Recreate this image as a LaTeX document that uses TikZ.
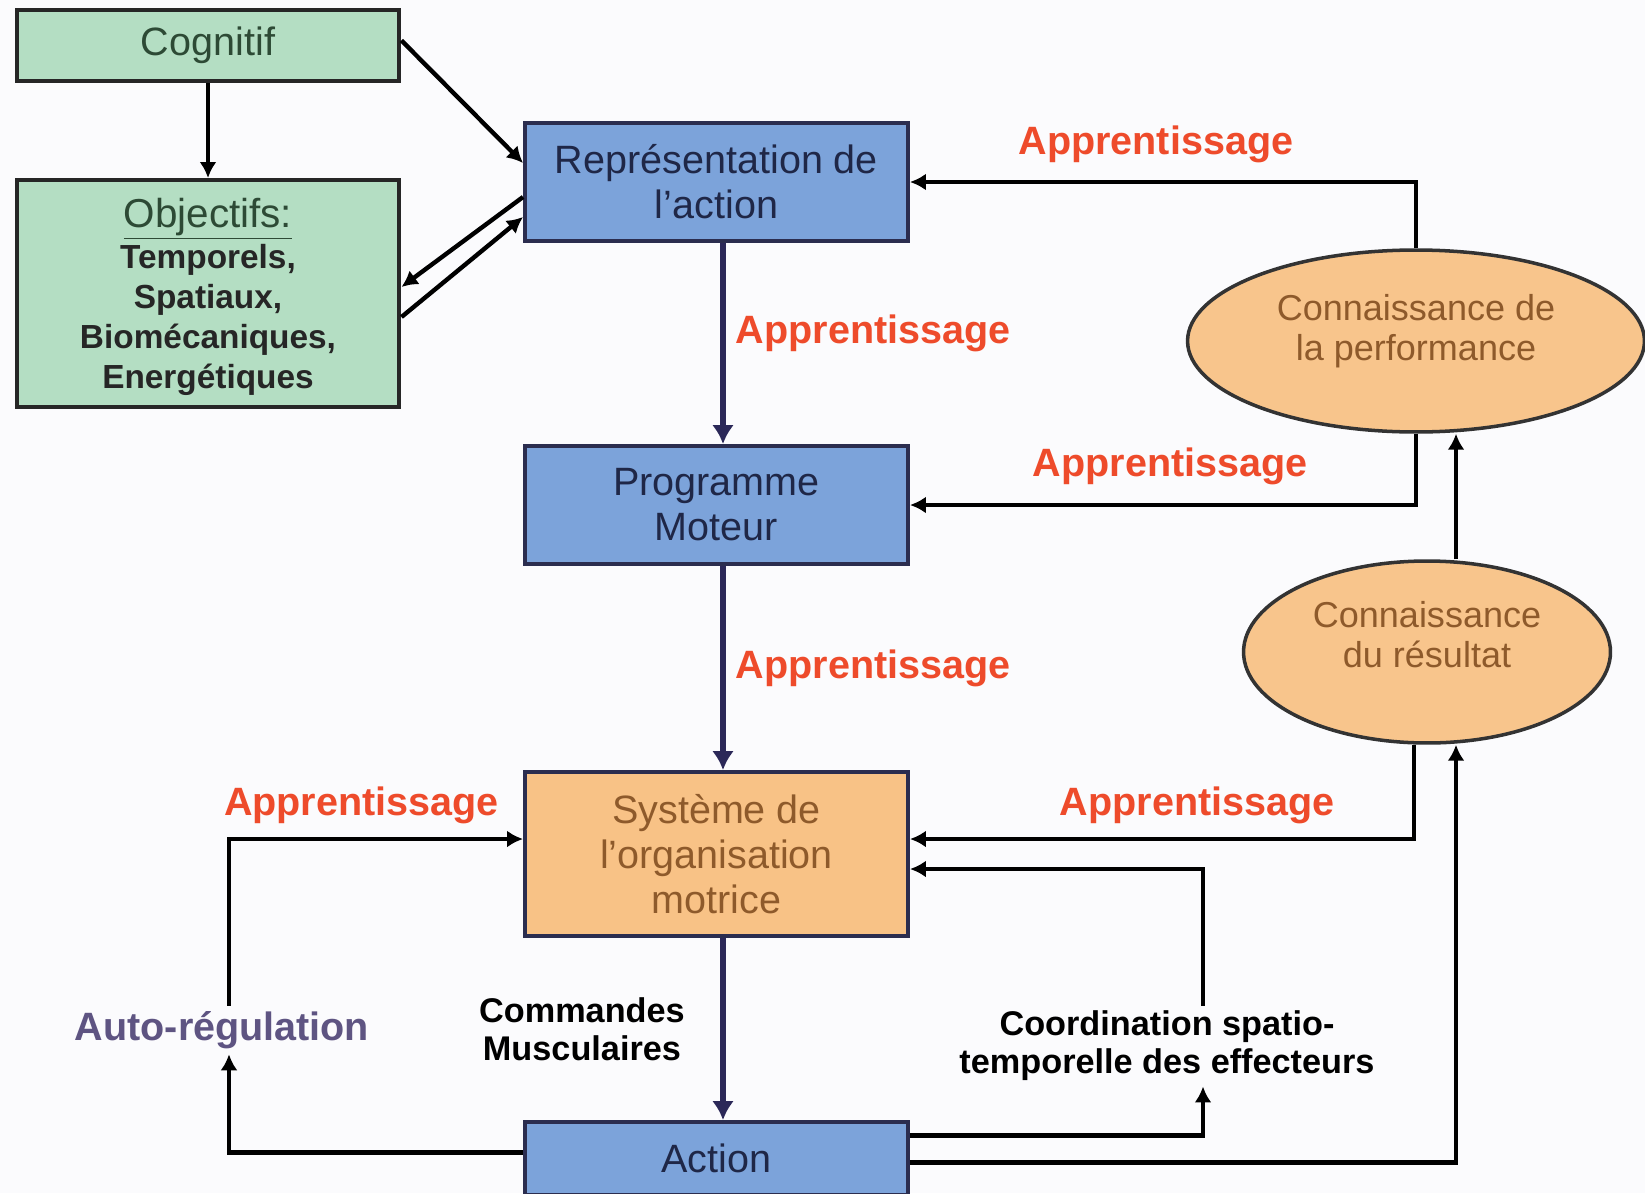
\documentclass[tikz,border=0pt]{standalone}
\usepackage{fontspec}
\setmainfont{Liberation Sans}
\usepackage{tikz}
\usetikzlibrary{arrows.meta, positioning, calc, shapes.geometric}
\definecolor{bgc}{HTML}{FBFBFD}
\definecolor{fGreen}{HTML}{B4DEC3}
\definecolor{tGreen}{HTML}{2D4A35}
\definecolor{fBlue}{HTML}{7CA3DA}
\definecolor{tBlue}{HTML}{1F2747}
\definecolor{fOrange}{HTML}{F8C286}
\definecolor{tOrange}{HTML}{8E5A2B}
\definecolor{bdr}{HTML}{2B2D4F}
\definecolor{navy}{HTML}{2B2858}
\definecolor{lrnRed}{HTML}{EE4B2B}
\definecolor{regPurple}{HTML}{5E5482}
\tikzset{
  B/.style={draw=bdr, line width=2.3pt, minimum width=7.66cm,
    font=\fontsize{22.5}{25.6}\selectfont, align=center, inner sep=2pt},
  Bb/.style={B, fill=fBlue, text=tBlue},
  Bg/.style={B, fill=fGreen, text=tGreen, draw=black!85},
  Bo/.style={B, fill=fOrange, text=tOrange},
  % feedback ellipses (text sits a little above the centre)
  E/.style={ellipse, draw=black!80, line width=2pt, fill=fOrange!95!white,
    text=tOrange, align=center, inner sep=0pt,
    font=\fontsize{20.5}{23}\selectfont},
  A/.style={-{Latex[length=0.32cm,width=0.34cm]}, line width=2.5pt},
  Am/.style={-{Latex[length=0.38cm,width=0.44cm]}, line width=3.4pt, draw=navy},
  lrn/.style={text=lrnRed, inner sep=0pt, font=\bfseries\fontsize{22.5}{26}\selectfont},
  sub/.style={font=\bfseries\fontsize{19.5}{21.5}\selectfont, align=center, inner sep=3pt},
}

\begin{document}
\begin{tikzpicture}[x=0.02cm, y=-0.02cm]
\fill[bgc] (0,0) rectangle (1645,1193);
\useasboundingbox (0,0) rectangle (1645,1193);

% =====================================================================
% LEFT: cognitive goals
% =====================================================================
\node[Bg, minimum height=1.42cm] (cog) at (208,45.5) {Cognitif};
\node[Bg, minimum height=4.54cm, text=black!85,
      font=\bfseries\fontsize{19}{22.7}\selectfont] (obj) at (208,293.5) {%
  {\rule{0pt}{0.73cm}\mdseries\fontsize{23}{22.7}\selectfont\color{tGreen}\underline{Objectifs:}}\\[0.02cm]
  Temporels,\\Spatiaux,\\Biomécaniques,\\Energétiques};

% ── MAIN COLUMN ──────────────────────────────────────────────────────
\node[Bb, minimum height=2.36cm] (rep) at (716.5,182) {Représentation de\\l’action};
\node[Bb, minimum height=2.36cm] (prog) at (716.5,505) {Programme\\Moteur};
\node[Bo, minimum height=3.28cm] (sys) at (716.5,854) {Système de\\l’organisation\\motrice};
\node[Bb, minimum height=1.46cm] (act) at (716.5,1158.5) {Action};

\draw[A] (cog) -- (obj);
\draw[A] ([yshift=0.1cm]cog.east) -- ([yshift=0.38cm]rep.west);
\draw[A] ([yshift=-0.30cm]rep.west) -- ([yshift=0.13cm]obj.east);
\draw[A] ([yshift=-0.47cm]obj.east) -- ([yshift=-0.70cm]rep.west);

\draw[Am] ([xshift=0.13cm]rep.south) -- ([xshift=0.13cm]prog.north)
  node[pos=0.45, right=0.2cm, lrn] {Apprentissage};
\draw[Am] ([xshift=0.13cm]prog.south) -- ([xshift=0.13cm]sys.north)
  node[midway, right=0.2cm, lrn] {Apprentissage};
\draw[Am] ([xshift=0.13cm]sys.south) -- ([xshift=0.13cm]act.north)
  node[midway, left=0.6cm, sub] {Commandes\\Musculaires};

% =====================================================================
% RIGHT: knowledge of performance / result
% =====================================================================
\node[E, minimum width=9.14cm, minimum height=3.64cm, text depth=0.55cm] (perf) at (1416,341)
  {Connaissance de\\la performance};
\node[E, minimum width=7.34cm, minimum height=3.64cm, text depth=0.7cm] (res) at (1427,652)
  {Connaissance\\du résultat};

\draw[A] (perf.north) |- (rep.east)
  node[pos=0.757, above=0.33cm, lrn] {Apprentissage};
\draw[A] (perf.south) |- (prog.east)
  node[pos=0.743, above=0.35cm, lrn] {Apprentissage};
\draw[A] ([xshift=0.58cm]res.north) -- ([xshift=0.58cm]res.north |- perf.south);
\draw[A] ([xshift=-0.26cm]res.south) |- ([yshift=0.3cm]sys.east)
  node[pos=0.715, above=0.26cm, lrn] {Apprentissage};

% ── COORDINATION ─────────────────────────────────────────────────────
\node[sub] (coord) at (1167,1046) {Coordination spatio-\\temporelle des effecteurs};
\draw[A] ([yshift=0.46cm]act.east) -| ([xshift=0.72cm]coord.south);
\draw[A] ([xshift=0.72cm]coord.north) |- ([yshift=-0.3cm]sys.east);
\draw[A] ([yshift=-0.08cm]act.east) -| ([xshift=0.58cm]res.south);

% ── AUTO-REGULATION ──────────────────────────────────────────────────
\node[sub, text=regPurple, font=\bfseries\fontsize{22.5}{26}\selectfont] (reg) at (222,1030)
  {Auto-régulation};
\draw[A] ([yshift=0.12cm]act.west) -| ([xshift=0.14cm]reg.south);
\draw[A] ([xshift=0.14cm]reg.north) |- ([yshift=0.3cm]sys.west)
  node[pos=0.725, above=0.26cm, lrn] {Apprentissage};

\end{tikzpicture}
\end{document}
